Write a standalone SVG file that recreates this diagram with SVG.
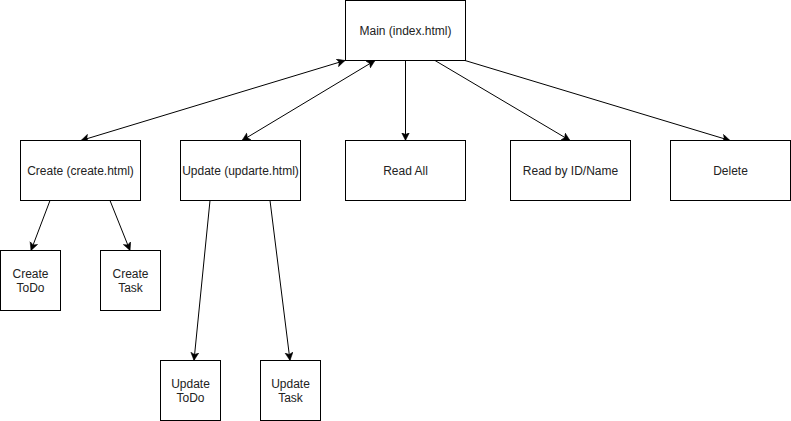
<svg xmlns="http://www.w3.org/2000/svg" width="791" height="421" viewBox="0 0 791 421">
<defs>
<style>
.n rect{fill:#fff;stroke:#000;stroke-width:1}
.n text{font-family:"Liberation Sans",Arial,sans-serif;font-size:12px;fill:#222;text-anchor:middle}
#edges line{stroke:#000;stroke-width:1;fill:none}
</style>
<marker id="ah" markerWidth="10" markerHeight="10" refX="8" refY="4" orient="auto-start-reverse" markerUnits="userSpaceOnUse" viewBox="0 0 10 10">
<path d="M0,0 L8,4 L0,8 L2,4 z" fill="#000" stroke="#000" stroke-width="0.5"/>
</marker>
</defs>
<rect width="791" height="421" fill="#fff"/>
<g id="edges">
<line x1="345" y1="60.5" x2="81" y2="140.5" marker-start="url(#ah)" marker-end="url(#ah)"/>
<line x1="375" y1="60.5" x2="242" y2="140.5" marker-start="url(#ah)" marker-end="url(#ah)"/>
<line x1="405.5" y1="60.5" x2="405.5" y2="140.5" marker-end="url(#ah)"/>
<line x1="435" y1="60.5" x2="570" y2="140.5" marker-end="url(#ah)"/>
<line x1="465" y1="60.5" x2="730" y2="140.5" marker-end="url(#ah)"/>
<line x1="50" y1="200.5" x2="31" y2="250.5" marker-end="url(#ah)"/>
<line x1="110" y1="200.5" x2="130" y2="250.5" marker-end="url(#ah)"/>
<line x1="210" y1="200.5" x2="194" y2="360.5" marker-end="url(#ah)"/>
<line x1="270" y1="200.5" x2="290" y2="360.5" marker-end="url(#ah)"/>
</g>
<g id="main" class="n"><rect x="345.5" y="0.5" width="120" height="60"/><text x="405.5" y="35">Main (index.html)</text></g>
<g id="create" class="n"><rect x="20.5" y="140.5" width="120" height="60"/><text x="80.5" y="175">Create (create.html)</text></g>
<g id="update" class="n"><rect x="180.5" y="140.5" width="120" height="60"/><text x="240.5" y="175">Update (updarte.html)</text></g>
<g id="readall" class="n"><rect x="345.5" y="140.5" width="120" height="60"/><text x="405.5" y="175">Read All</text></g>
<g id="readbyid" class="n"><rect x="510.5" y="140.5" width="120" height="60"/><text x="570.5" y="175">Read by ID/Name</text></g>
<g id="delete" class="n"><rect x="670.5" y="140.5" width="120" height="60"/><text x="730.5" y="175">Delete</text></g>
<g id="createtodo" class="n"><rect x="0.5" y="250.5" width="60" height="60"/><text x="30.5" y="278">Create</text><text x="30.5" y="292">ToDo</text></g>
<g id="createtask" class="n"><rect x="100.5" y="250.5" width="60" height="60"/><text x="130.5" y="278">Create</text><text x="130.5" y="292">Task</text></g>
<g id="updatetodo" class="n"><rect x="160.5" y="360.5" width="60" height="60"/><text x="190.5" y="388">Update</text><text x="190.5" y="402">ToDo</text></g>
<g id="updatetask" class="n"><rect x="260.5" y="360.5" width="60" height="60"/><text x="290.5" y="388">Update</text><text x="290.5" y="402">Task</text></g>
</svg>
